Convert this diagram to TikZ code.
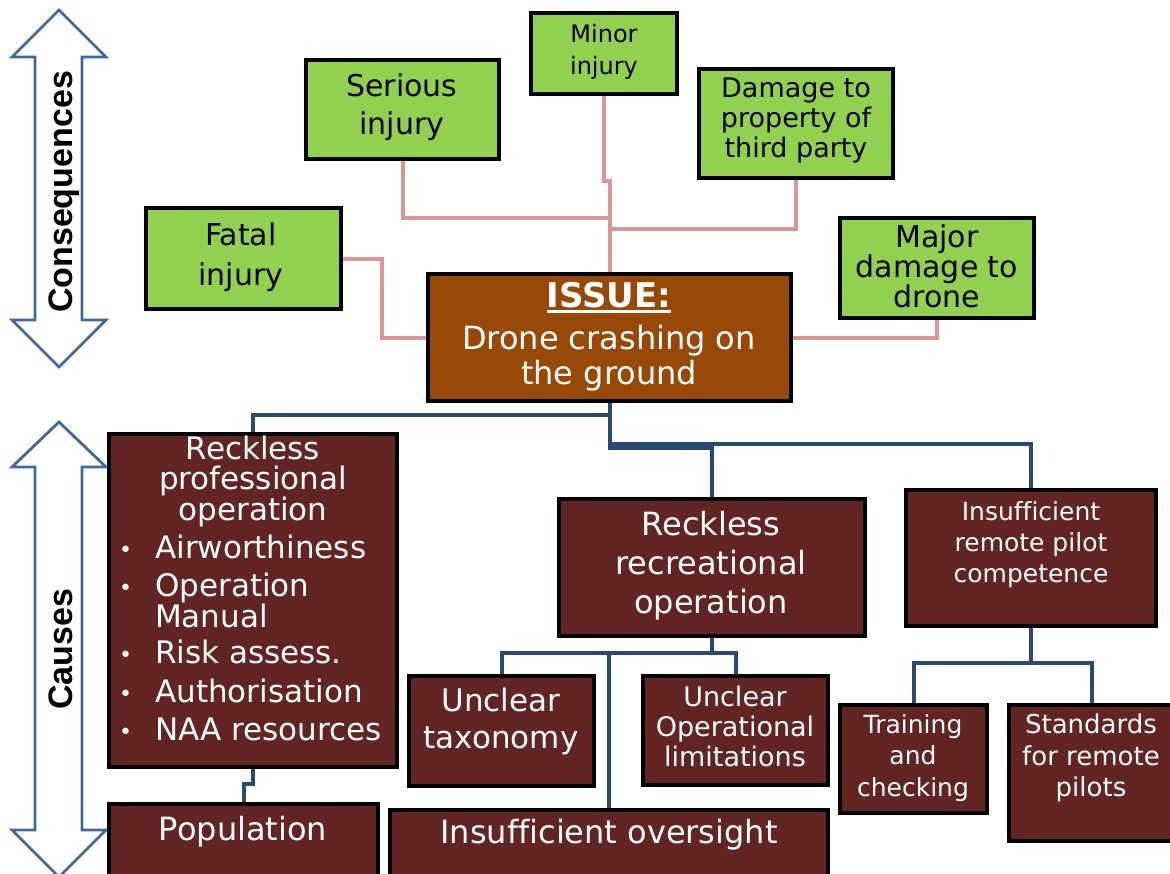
\documentclass[tikz,border=0pt]{standalone}
\usepackage{fontspec}
\setmainfont[Ligatures=NoCommon]{DejaVu Sans}
\newfontfamily\arrowfont{Liberation Sans}
\usetikzlibrary{calc}

\definecolor{conseqfill}{HTML}{92D050}
\definecolor{causefill}{HTML}{632523}
\definecolor{issuefill}{HTML}{984807}
\definecolor{pinkline}{HTML}{D99694}
\definecolor{navyline}{HTML}{2B4A6F}
\definecolor{arrowblue}{HTML}{41689C}

\pgfdeclarelayer{bg}
\pgfsetlayers{bg,main}

\tikzset{
  box/.style={rectangle, draw=black, line width=3.8pt, inner sep=0pt, outer sep=0pt},
  gbox/.style={box, fill=conseqfill},
  rbox/.style={box, fill=causefill},
  ibox/.style={box, fill=issuefill},
  btxt/.style={text=black, align=center, inner sep=0pt},
  wtxt/.style={text=white, align=center, inner sep=0pt},
  pk/.style={draw=pinkline, line width=4pt},
  nv/.style={draw=navyline, line width=4pt},
  bigarrow/.style={draw=arrowblue, line width=2.8pt, fill=white, line join=miter},
  sidelabel/.style={rotate=90, anchor=base, inner sep=0pt,
    font=\arrowfont\bfseries\fontsize{34}{34}\selectfont},
}
\newcommand\fs[2]{\fontsize{#1}{#2}\selectfont}
% box from corner (x1,y1) to corner (x2,y2), y measured downwards
\newcommand\boxnode[6]{%
  \node[#1, minimum width={(#5-#3-4)*1pt}, minimum height={(#6-#4-4)*1pt}]
    (#2) at ({(#3+#5)/2},{(#4+#6)/2}) {};}
\newcommand\thickul[1]{\vtop{\hbox{#1}\kern3pt\hrule height 3pt}}
\newcommand\smallbullet{\raisebox{1pt}{\fs{22}{22}•}}

\begin{document}
\begin{tikzpicture}[x=1pt, y=-1pt]
\path[use as bounding box] (0,0) rectangle (1170,873);

% side arrows
\draw[bigarrow] (59,10) -- (106,57) -- (82,57) -- (82,320) -- (106,320) -- (59,367)
  -- (12,320) -- (35,320) -- (35,57) -- (12,57) -- cycle;
\node[sidelabel] (conseqlabel) at (72,192) {Consequences};
\draw[bigarrow] (59,422) -- (106,467) -- (82,467) -- (82,830) -- (106,830) -- (59,877)
  -- (12,830) -- (35,830) -- (35,467) -- (12,467) -- cycle;
\node[sidelabel] (causeslabel) at (72,649.5) {Causes};

% consequences
\boxnode{gbox}{serious}{304}{58}{501}{161}
\boxnode{gbox}{minor}{529}{11}{679}{96}
\boxnode{gbox}{damage}{697}{67}{895}{180}
\boxnode{gbox}{fatal}{144}{206}{343}{311}
\boxnode{gbox}{major}{838}{216}{1036}{320}
\node[btxt, font=\fs{30}{38}] (serioust) at (402,107) {Serious\\injury};
\node[btxt, font=\fs{24}{32}] (minort) at (604,52) {Minor\\injury};
\node[btxt, font=\fs{27}{30}] (damaget) at (796,120) {Damage to\\property of\\third party};
\node[btxt, font=\fs{30}{40}] (fatalt) at (241,257) {Fatal\\injury};
\node[btxt, font=\fs{30}{30}] (majort) at (937,266) {Major\\damage to\\drone};

% issue
\boxnode{ibox}{issue}{426}{272}{793}{403}
\node[wtxt, anchor=base, font=\fs{34}{34}\bfseries] (issuehead) at (609,307) {\thickul{ISSUE:}};
\node[wtxt, font=\fs{32}{35}] (issuet) at (609,358) {Drone crashing on\\the ground};

% causes
\boxnode{rbox}{prof}{107}{432}{399}{769}
\boxnode{rbox}{pop}{107}{802}{380}{885}
\boxnode{rbox}{tax}{407}{674}{596}{788}
\boxnode{rbox}{over}{388}{808}{830}{885}
\boxnode{rbox}{lim}{641}{674}{830}{787}
\boxnode{rbox}{rec}{557}{497}{867}{638}
\boxnode{rbox}{pilot}{904}{488}{1158}{628}
\boxnode{rbox}{train}{838}{703}{989}{815}
\boxnode{rbox}{std}{1007}{703}{1177}{843}

\node[wtxt, font=\fs{31}{30}] (proft) at (253,481) {Reckless\\professional\\operation};
\foreach \t/\y/\b [count=\k] in {Airworthiness/558/1, Operation/596/1, Manual/627/0,
    Risk assess./663/1, Authorisation/702/1, NAA resources/740/1}
  \node[wtxt, anchor=base west, font=\fs{31}{30}] (profitem\k) at (119,\y)
    {\makebox[36pt][l]{\ifnum\b=1 \smallbullet\fi}\t};
\node[wtxt, font=\fs{32}{32}] (popt) at (243,832) {Population};
\node[wtxt, font=\fs{31}{37}] (taxt) at (501,721) {Unclear\\taxonomy};
\node[wtxt, font=\fs{32}{32}] (overt) at (609,835) {Insufficient oversight};
\node[wtxt, font=\fs{27}{30}] (limt) at (735,726) {Unclear\\Operational\\limitations};
\node[wtxt, font=\fs{32}{39}] (rect) at (711,566) {Reckless\\recreational\\operation};
\node[wtxt, font=\fs{25}{31}] (pilott) at (1031,545) {Insufficient\\remote pilot\\competence};
\node[wtxt, font=\fs{25}{31.5}] (traint) at (913,758) {Training\\and\\checking};
\node[wtxt, font=\fs{26}{31.5}] (stdt) at (1091,758) {Standards\\for remote\\pilots};

% connectors
\begin{pgfonlayer}{bg}
  \draw[pk] (minor.south) -- ++(0,87) -| (issue.north);
  \draw[pk] (serious.south) |- ($(issue.north)+(0,-56)$);
  \draw[pk] (damage.south) |- ($(issue.north)+(0,-45)$);
  \draw[pk] (fatal.east) -- ++(41,0) |- (issue.west);
  \draw[pk] (major.south) |- (issue.east);

  \draw[nv] (issue.south) -- ++(0,14) -| (prof.north);
  \draw[nv] (issue.south) -- ++(0,47) -| (rec.north);
  \draw[nv] (issue.south) -- ++(0,43) -| (pilot.north);
  \draw[nv] (prof.south) -- ++(0,17) -| (pop.north);
  \draw[nv] (rec.south) -- ++(0,17) -| (tax.north);
  \draw[nv] (rec.south) -- ++(0,17) -| (lim.north);
  \draw[nv] (rec.south) -- ++(0,17) -| (over.north);
  \draw[nv] (pilot.south) -- ++(0,37) -| (train.north);
  \draw[nv] (pilot.south) -- ++(0,37) -| (std.north);
\end{pgfonlayer}
\end{tikzpicture}
\end{document}
